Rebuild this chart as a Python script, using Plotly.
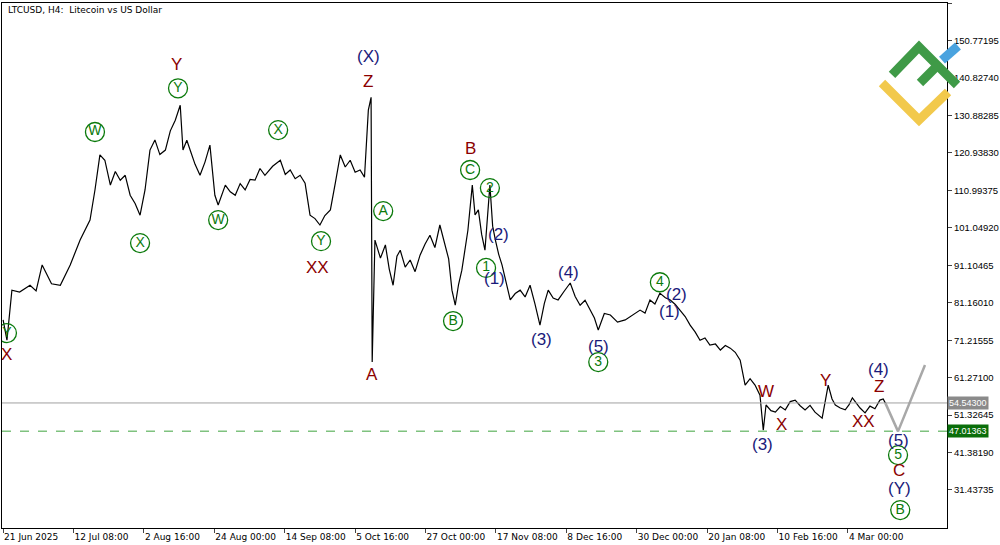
import plotly.graph_objects as go

# H4 bar number since 21 Jun 2025 00:00 and the close read at that bar
bars = [0, 7, 16, 30, 49, 60, 71, 88, 104, 122, 140, 158, 167, 176, 185, 195, 204, 213, 222, 231, 240, 249, 258, 267, 276,
        285, 295, 304, 313, 322, 327, 334, 340, 349, 358, 367, 376, 385, 391, 404, 413, 422, 431, 440, 449, 458, 467, 476, 490, 504, 513, 522, 531, 540, 549, 558, 567, 576, 585, 595,
        604, 613, 622, 631, 640, 649, 657, 664, 669, 671, 676, 686, 695, 702, 709, 716, 722, 731, 740, 749, 758, 767, 776, 785, 794, 804, 810, 816, 822, 828, 834, 845, 853,
        858, 864, 870, 876, 885, 890, 895, 901, 907, 915, 922, 931, 940, 949, 958, 967, 976, 984, 991, 1000, 1009, 1020, 1031, 1040, 1049, 1058, 1067, 1075, 1082, 1093, 1104, 1117, 1131, 1145, 1158, 1167, 1176, 1185, 1194,
        1204, 1213, 1222, 1231, 1240, 1249, 1258, 1267, 1276, 1285, 1295, 1304, 1313, 1322, 1331, 1340, 1349, 1358, 1367, 1376, 1382, 1387, 1396, 1404, 1413, 1422, 1431, 1440, 1449, 1458, 1467, 1476, 1483, 1489, 1500,
        1507, 1513, 1522, 1531, 1538, 1544, 1551, 1558, 1567, 1576, 1585, 1594, 1600, 1604]
closes = [76.6, 71.2, 84.5, 84.0, 85.8, 84.3, 91.2, 86.2, 85.8, 91.2, 97.8, 103.1, 111.1, 120.4, 119.0, 112.4, 116.0, 113.7, 115.0, 109.7, 107.5, 104.4, 111.1, 121.7, 124.4,
          120.5, 121.7, 126.8, 129.6, 133.6, 121.7, 124.3, 121.7, 117.9, 115.0, 118.5, 123.0, 109.7, 107.1, 112.4, 110.6, 109.7, 112.8, 111.1, 113.9, 113.7, 116.8, 115.0, 117.4, 119.0, 115.2, 116.4, 114.1, 115.0, 112.9, 104.4, 103.5, 101.8, 104.3, 105.8,
          113.0, 120.4, 117.2, 119.0, 115.8, 116.4, 114.5, 132.3, 135.7, 65.4, 97.8, 93.0, 96.5, 90.1, 85.8, 93.5, 95.1, 90.6, 92.5, 89.4, 93.8, 96.7, 99.1, 95.8, 101.8, 96.5, 92.8, 84.5, 80.5, 86.0, 89.8, 100.4, 112.4,
          104.5, 105.8, 99.3, 95.1, 112.4, 101.5, 97.8, 94.0, 91.2, 85.9, 81.9, 83.6, 84.5, 82.7, 85.8, 80.8, 75.2, 81.0, 84.5, 82.4, 81.9, 84.2, 86.4, 82.8, 80.5, 81.8, 79.2, 77.1, 73.9, 78.3, 77.9, 76.0, 76.6, 78.0, 79.2, 78.4, 81.9, 80.8, 83.7,
          82.5, 81.9, 80.7, 79.2, 77.5, 75.2, 73.4, 71.2, 71.8, 69.9, 70.2, 68.6, 69.8, 69.1, 68.0, 65.9, 59.3, 61.0, 59.3, 56.6, 47.3, 54.0, 52.5, 52.1, 53.6, 52.7, 54.9, 55.3, 53.8, 52.7, 53.9, 52.1, 51.2, 50.5, 59.3,
          55.6, 54.0, 53.2, 52.7, 54.1, 55.9, 54.6, 53.2, 51.9, 53.7, 53.0, 55.3, 55.6, 54.5]

last_price = 54.543
target_price = 47.01363
proj_bars = [1604, 1627, 1676]
proj_prices = [54.5, 47.0, 64.6]

tick_bars = [0, 128, 256, 384, 512, 640, 768, 896, 1024, 1152, 1280, 1408, 1536]
tick_text = ["21 Jun 2025", "12 Jul 08:00", "2 Aug 16:00", "24 Aug 00:00", "14 Sep 08:00", "5 Oct 16:00",
             "27 Oct 00:00", "17 Nov 08:00", "8 Dec 16:00", "30 Dec 00:00", "20 Jan 08:00", "10 Feb 16:00", "4 Mar 00:00"]
price_ticks = [31.43735, 41.38190, 51.32645, 61.27100, 71.21555, 81.16010, 91.10465,
               101.04920, 110.99375, 120.93830, 130.88285, 140.82740, 150.77195, 160.71650]

# plain wave labels: bar, price, text, colour key
labels = [
    (7, 67.3, "X", "red"), (315, 144.3, "Y", "red"), (571, 90.6, "XX", "red"),
    (664, 146.6, "(X)", "navy"), (664, 140.0, "Z", "red"), (671, 62.0, "A", "red"),
    (849, 122.2, "B", "red"), (900, 99.4, "(2)", "navy"), (893, 87.7, "(1)", "navy"),
    (978, 71.5, "(3)", "navy"), (1027, 89.3, "(4)", "navy"), (1082, 69.6, "(5)", "navy"),
    (1224, 83.4, "(2)", "navy"), (1211, 78.7, "(1)", "navy"),
    (1387, 57.7, "W", "red"), (1415, 48.7, "X", "red"), (1380, 43.6, "(3)", "navy"),
    (1496, 60.4, "Y", "red"), (1564, 49.5, "XX", "red"), (1591, 63.3, "(4)", "navy"),
    (1593, 59.0, "Z", "red"), (1627, 44.7, "(5)", "navy"), (1629, 36.7, "C", "red"),
    (1629, 31.9, "(Y)", "navy"),
]
# circled wave labels
circled = [
    (7, 73.1, "Y"), (167, 126.5, "W"), (249, 97.0, "X"), (318, 138.1, "Y"), (391, 103.1, "W"),
    (500, 127.0, "X"), (578, 97.5, "Y"), (691, 105.5, "A"), (849, 116.4, "C"), (818, 76.3, "B"),
    (885, 111.6, "2"), (878, 90.4, "1"), (1082, 65.4, "3"), (1194, 86.6, "4"),
    (1627, 40.7, "5"), (1631, 26.1, "B"),
]

colors = {"red": "#8b0000", "navy": "#1a1a7a", "green": "#0b7a0b"}

fig = go.Figure()
fig.add_trace(go.Scatter(x=bars, y=closes, mode="lines", line=dict(color="black", width=1.2),
                         hoverinfo="skip"))
fig.add_trace(go.Scatter(x=proj_bars, y=proj_prices, mode="lines", line=dict(color="#a8a8a8", width=2.5),
                         hoverinfo="skip"))
fig.add_trace(go.Scatter(
    x=[c[0] for c in circled], y=[c[1] for c in circled], text=[c[2] for c in circled],
    mode="markers+text", textposition="middle center",
    marker=dict(symbol="circle-open", size=19, color=colors["green"], line=dict(width=1.3)),
    textfont=dict(color=colors["green"], size=14, family="Liberation Sans"), hoverinfo="skip"))

for b, p, t, c in labels:
    fig.add_annotation(x=b, y=p, text=t, showarrow=False,
                       font=dict(color=colors[c], size=17, family="Liberation Sans"))

fig.add_hline(y=last_price, line=dict(color="#a0a0a0", width=1))
fig.add_hline(y=target_price, line=dict(color="#7fc27f", width=1.5, dash="dash"))
fig.add_annotation(xref="paper", x=1.0, y=last_price, text="54.54300", showarrow=False, xanchor="left",
                   bgcolor="#8a8a8a", font=dict(color="white", size=9, family="Liberation Sans"), borderpad=1)
fig.add_annotation(xref="paper", x=1.0, y=target_price, text="47.01363", showarrow=False, xanchor="left",
                   bgcolor="#0a6e0a", font=dict(color="white", size=9, family="Liberation Sans"), borderpad=1)
fig.add_annotation(xref="paper", yref="paper", x=0.004, y=1.0, yanchor="top", xanchor="left", showarrow=False,
                   text="LTCUSD, H4:  Litecoin vs US Dollar", font=dict(size=9, color="black", family="DejaVu Sans"))

# logo
def px(x, y):
    return (x - 2) / 945, (528 - y) / 525

logo = [
    ("#3f9a47", [(892, 75), (919, 47), (957, 85)]),
    ("#3f9a47", [(920, 83), (940, 63)]),
    ("#f2c94c", [(882, 83), (919, 120), (948, 92)]),
    ("#4aa3df", [(942, 60), (958, 46)]),
]
for col, pts in logo:
    pp = [px(*q) for q in pts]
    path = "M " + " L ".join(f"{a:.4f},{b:.4f}" for a, b in pp)
    fig.add_shape(type="path", path=path, xref="paper", yref="paper",
                  line=dict(color=col, width=9), layer="above")

fig.update_layout(
    width=1000, height=545, margin=dict(l=2, r=53, t=3, b=17, autoexpand=False),
    paper_bgcolor="white", plot_bgcolor="white", showlegend=False,
    xaxis=dict(range=[-2, 1716], tickvals=tick_bars, ticktext=tick_text, ticks="outside", ticklen=4,
               ticklabelposition="outside right", tickangle=0, automargin=False,
               showgrid=False, zeroline=False, showline=True, linecolor="black", mirror=True,
               tickfont=dict(size=9, family="DejaVu Sans", color="black")),
    yaxis=dict(range=[21.34, 160.75], side="right", tickvals=price_ticks, automargin=False,
               ticktext=[f"{v:.5f}" for v in price_ticks], ticks="outside", ticklen=4,
               showgrid=False, zeroline=False, showline=True, linecolor="black", mirror=True,
               tickfont=dict(size=9.5, family="Liberation Sans", color="black")),
)

fig.write_html("out.html", config={"displayModeBar": False},
               post_script="document.body.style.margin='0';document.body.style.overflow='hidden';")
